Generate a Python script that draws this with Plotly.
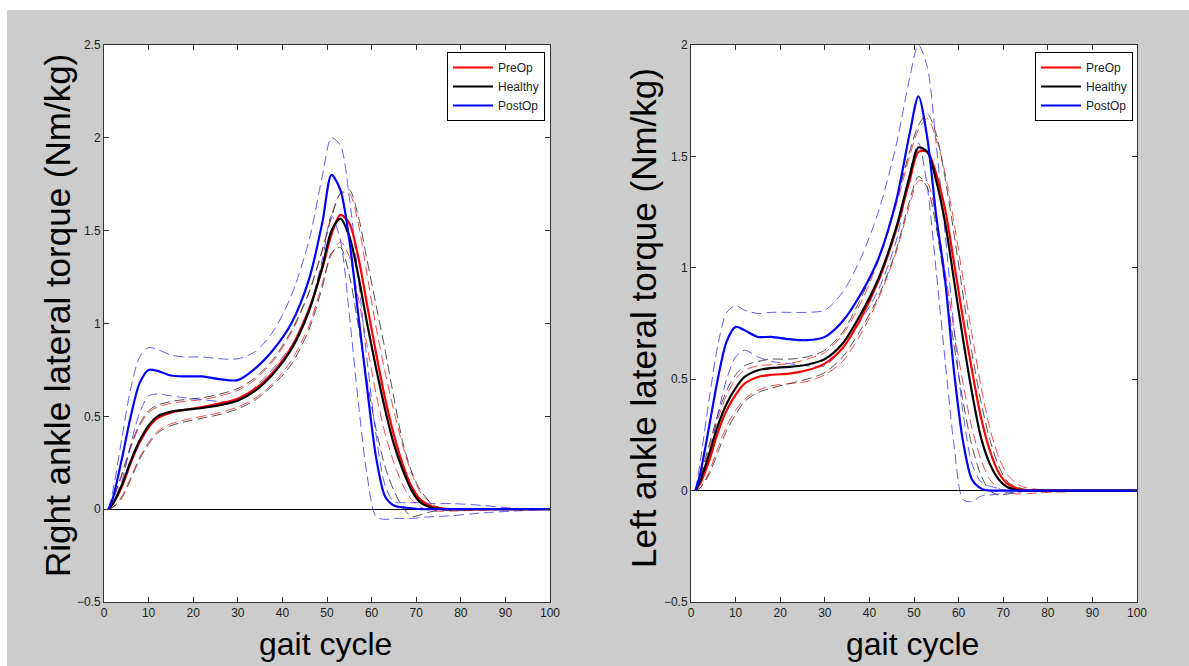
import plotly.graph_objects as go

# ---------------- data ----------------
GAIT = [1, 2, 4, 6, 8, 10, 12, 15, 18, 22, 26, 30, 34, 38, 42, 46, 49, 51, 53, 55,
        57, 59, 61, 63, 65, 67, 69, 71, 74, 78, 85, 92, 100]

X_TICKS = [0, 10, 20, 30, 40, 50, 60, 70, 80, 90, 100]
Y_TICKS_RIGHT = [-0.5, 0, 0.5, 1, 1.5, 2, 2.5]
Y_TICKS_LEFT = [-0.5, 0, 0.5, 1, 1.5, 2]
GROUPS = ["PreOp", "Healthy", "PostOp"]

# Right ankle (left panel)
R_PRE_MEAN = [0, 0.03, 0.12, 0.25, 0.36, 0.44, 0.49, 0.52, 0.535, 0.55, 0.57, 0.595, 0.65, 0.74, 0.87, 1.08, 1.30, 1.48, 1.585, 1.54,
              1.36, 1.10, 0.84, 0.60, 0.40, 0.24, 0.12, 0.05, 0.01, 0, 0, 0, 0]
R_PRE_UP = [0, 0.05, 0.18, 0.33, 0.45, 0.52, 0.55, 0.57, 0.58, 0.59, 0.61, 0.64, 0.70, 0.80, 0.95, 1.17, 1.40, 1.58, 1.70, 1.70,
            1.54, 1.26, 0.98, 0.74, 0.53, 0.34, 0.19, 0.09, 0.02, 0, 0, 0, 0]
R_PRE_LO = [0, 0.01, 0.07, 0.17, 0.28, 0.36, 0.42, 0.46, 0.48, 0.50, 0.52, 0.55, 0.60, 0.68, 0.80, 0.99, 1.22, 1.37, 1.44, 1.36,
            1.14, 0.88, 0.62, 0.41, 0.25, 0.13, 0.05, 0.01, -0.01, -0.01, -0.005, 0, 0]
R_HEA_MEAN = [0, 0.03, 0.13, 0.26, 0.37, 0.45, 0.50, 0.525, 0.535, 0.545, 0.56, 0.585, 0.64, 0.73, 0.86, 1.07, 1.31, 1.50, 1.565, 1.47,
              1.26, 1.00, 0.76, 0.54, 0.35, 0.21, 0.10, 0.035, 0.005, 0, 0, 0, 0]
R_HEA_UP = [0, 0.05, 0.19, 0.34, 0.46, 0.53, 0.56, 0.58, 0.59, 0.60, 0.62, 0.65, 0.71, 0.81, 0.96, 1.17, 1.40, 1.57, 1.70, 1.72,
            1.58, 1.34, 1.10, 0.86, 0.60, 0.36, 0.20, 0.10, 0.02, 0, 0, 0, 0]
R_HEA_LO = [0, 0.01, 0.06, 0.16, 0.27, 0.35, 0.41, 0.45, 0.47, 0.49, 0.51, 0.54, 0.59, 0.67, 0.78, 0.97, 1.20, 1.38, 1.41, 1.26,
            0.99, 0.69, 0.43, 0.23, 0.10, 0.01, -0.04, -0.03, -0.01, -0.005, 0, 0, 0]
R_POST_MEAN = [0, 0.06, 0.27, 0.50, 0.68, 0.75, 0.745, 0.72, 0.715, 0.715, 0.70, 0.695, 0.76, 0.86, 1.00, 1.24, 1.55, 1.80, 1.72, 1.45,
               1.05, 0.65, 0.28, 0.07, 0.02, 0.01, 0.005, 0, 0, 0, 0, 0, 0]
R_POST_UP = [0, 0.10, 0.38, 0.65, 0.82, 0.87, 0.86, 0.83, 0.82, 0.82, 0.81, 0.81, 0.85, 0.96, 1.15, 1.45, 1.80, 2.00, 1.96, 1.68,
             1.25, 0.80, 0.40, 0.13, 0.04, 0.035, 0.035, 0.035, 0.03, 0.03, 0.02, 0.005, 0]
R_POST_LO = [0, 0.03, 0.15, 0.35, 0.52, 0.61, 0.62, 0.61, 0.60, 0.59, 0.58, 0.58, 0.66, 0.76, 0.88, 1.08, 1.35, 1.58, 1.45, 1.05,
             0.58, 0.18, -0.04, -0.055, -0.05, -0.05, -0.05, -0.045, -0.04, -0.035, -0.02, -0.01, 0]

# Left ankle (right panel)
L_PRE_MEAN = [0, 0.03, 0.13, 0.26, 0.36, 0.43, 0.48, 0.51, 0.52, 0.525, 0.54, 0.57, 0.64, 0.77, 0.94, 1.17, 1.39, 1.52, 1.52, 1.42,
              1.26, 1.02, 0.77, 0.54, 0.33, 0.18, 0.08, 0.03, 0.005, 0, 0, 0, 0]
L_PRE_UP = [0, 0.05, 0.18, 0.32, 0.43, 0.50, 0.54, 0.56, 0.565, 0.57, 0.59, 0.62, 0.70, 0.84, 1.03, 1.28, 1.50, 1.62, 1.67, 1.58,
            1.42, 1.20, 0.95, 0.70, 0.47, 0.28, 0.15, 0.07, 0.02, 0.005, 0, 0, 0]
L_PRE_LO = [0, 0.01, 0.08, 0.19, 0.29, 0.36, 0.41, 0.45, 0.47, 0.48, 0.49, 0.52, 0.58, 0.70, 0.86, 1.07, 1.28, 1.39, 1.38, 1.22,
            0.98, 0.72, 0.48, 0.28, 0.14, 0.05, 0.01, -0.01, -0.015, -0.01, -0.005, 0, 0]
L_HEA_MEAN = [0, 0.04, 0.16, 0.29, 0.39, 0.46, 0.51, 0.54, 0.55, 0.555, 0.565, 0.59, 0.66, 0.79, 0.95, 1.18, 1.41, 1.54, 1.52, 1.39,
              1.20, 0.94, 0.68, 0.44, 0.24, 0.12, 0.05, 0.015, 0, 0, 0, 0, 0]
L_HEA_UP = [0, 0.06, 0.20, 0.34, 0.45, 0.52, 0.56, 0.58, 0.59, 0.59, 0.60, 0.63, 0.71, 0.86, 1.04, 1.30, 1.52, 1.64, 1.69, 1.60,
            1.40, 1.15, 0.88, 0.62, 0.40, 0.23, 0.11, 0.04, 0.01, 0, 0, 0, 0]
L_HEA_LO = [0, 0.01, 0.07, 0.17, 0.27, 0.34, 0.40, 0.44, 0.46, 0.48, 0.50, 0.53, 0.60, 0.72, 0.87, 1.08, 1.30, 1.41, 1.36, 1.18,
            0.92, 0.65, 0.40, 0.20, 0.07, 0.0, -0.02, -0.015, -0.005, 0, 0, 0, 0]
L_POST_MEAN = [0, 0.07, 0.28, 0.50, 0.67, 0.735, 0.72, 0.69, 0.69, 0.68, 0.675, 0.69, 0.76, 0.88, 1.04, 1.30, 1.60, 1.77, 1.58, 1.23,
               0.94, 0.53, 0.22, 0.05, 0.01, 0, 0, 0, 0, 0, 0, 0, 0]
L_POST_UP = [0, 0.12, 0.40, 0.65, 0.80, 0.83, 0.81, 0.795, 0.80, 0.80, 0.80, 0.81, 0.89, 1.04, 1.25, 1.55, 1.85, 2.00, 1.90, 1.55,
             1.15, 0.72, 0.35, 0.12, 0.04, 0.02, 0.01, 0, 0, 0, 0, 0, 0]
L_POST_LO = [0, 0.03, 0.15, 0.34, 0.50, 0.60, 0.63, 0.60, 0.58, 0.57, 0.56, 0.56, 0.64, 0.76, 0.90, 1.12, 1.42, 1.56, 1.36, 0.98,
             0.58, 0.20, -0.04, -0.05, -0.025, -0.02, -0.015, -0.01, -0.005, 0, 0, 0, 0]

# ---------------- styling ----------------
W, H = 1189, 666
FONT = "Liberation Sans, Arial, sans-serif"
MEAN_COL = {"PreOp": "#ff0000", "Healthy": "#000000", "PostOp": "#0000ff"}
SD_COL = {"PreOp": "rgba(255,30,30,0.8)", "Healthy": "rgba(50,50,50,0.85)", "PostOp": "rgba(40,40,255,0.75)"}

panels = [
    dict(xa="x", ya="y", legend="legend",
         data={"PreOp": (R_PRE_MEAN, R_PRE_UP, R_PRE_LO),
               "Healthy": (R_HEA_MEAN, R_HEA_UP, R_HEA_LO),
               "PostOp": (R_POST_MEAN, R_POST_UP, R_POST_LO)}),
    dict(xa="x2", ya="y2", legend="legend2",
         data={"PreOp": (L_PRE_MEAN, L_PRE_UP, L_PRE_LO),
               "Healthy": (L_HEA_MEAN, L_HEA_UP, L_HEA_LO),
               "PostOp": (L_POST_MEAN, L_POST_UP, L_POST_LO)}),
]

fig = go.Figure()
for p in panels:
    # dashed +/- SD bands first
    for g in GROUPS:
        _, up, lo = p["data"][g]
        for band in (up, lo):
            fig.add_trace(go.Scatter(
                x=GAIT, y=band, mode="lines", xaxis=p["xa"], yaxis=p["ya"],
                line=dict(color=SD_COL[g], width=1, dash="10px,5px", shape="spline", smoothing=0.8),
                showlegend=False, hoverinfo="skip"))
    for g in GROUPS:
        mean = p["data"][g][0]
        fig.add_trace(go.Scatter(
            x=GAIT, y=mean, mode="lines", name=g, xaxis=p["xa"], yaxis=p["ya"],
            legend=p["legend"],
            line=dict(color=MEAN_COL[g], width=2.2, shape="spline", smoothing=0.8)))

def px_x(v):
    return v / W

def px_y(v):
    return (H - v) / H

ydom = [px_y(602), px_y(45)]
axis_common = dict(showline=True, linecolor="#333333", linewidth=1, mirror="ticks",
                   ticks="inside", ticklen=5, tickcolor="#333333", showgrid=False,
                   automargin=False,
                   tickfont=dict(family=FONT, size=12, color="#222222"))

legend_common = dict(xanchor="right", yanchor="top", bgcolor="white", bordercolor="black",
                     borderwidth=1, font=dict(family=FONT, size=12, color="#222222"),
                     itemwidth=40, tracegroupgap=0)

fig.update_layout(
    template="none",
    width=W, height=H, autosize=False,
    margin=dict(l=0, r=0, t=0, b=0, pad=0, autoexpand=False),
    paper_bgcolor="#cccccc", plot_bgcolor="white",
    font=dict(family=FONT, color="#111111"),
    xaxis=dict(domain=[px_x(104), px_x(550)], range=[0, 100], tickvals=X_TICKS,
               zeroline=False, anchor="y", **axis_common),
    yaxis=dict(domain=ydom, range=[-0.5, 2.5], tickvals=Y_TICKS_RIGHT,
               zeroline=True, zerolinecolor="#000000", zerolinewidth=1, anchor="x", **axis_common),
    xaxis2=dict(domain=[px_x(691), px_x(1137)], range=[0, 100], tickvals=X_TICKS,
                zeroline=False, anchor="y2", **axis_common),
    yaxis2=dict(domain=ydom, range=[-0.5, 2], tickvals=Y_TICKS_LEFT,
                zeroline=True, zerolinecolor="#000000", zerolinewidth=1, anchor="x2", **axis_common),
    legend=dict(x=px_x(545), y=px_y(52), **legend_common),
    legend2=dict(x=px_x(1133), y=px_y(52), **legend_common),
    shapes=[
        dict(type="rect", xref="paper", yref="paper", x0=0, x1=1, y0=px_y(10), y1=1,
             fillcolor="white", line=dict(width=0), layer="below"),
        dict(type="rect", xref="paper", yref="paper", x0=0, x1=px_x(7), y0=0, y1=1,
             fillcolor="white", line=dict(width=0), layer="below"),
    ],
    annotations=[
        dict(text="Right ankle lateral torque (Nm/kg)", textangle=-90, xref="paper", yref="paper",
             x=px_x(57), y=px_y(316), xanchor="center", yanchor="middle", showarrow=False,
             font=dict(family=FONT, size=35, color="#000000")),
        dict(text="Left ankle lateral torque (Nm/kg)", textangle=-90, xref="paper", yref="paper",
             x=px_x(643), y=px_y(318), xanchor="center", yanchor="middle", showarrow=False,
             font=dict(family=FONT, size=35, color="#000000")),
        dict(text="gait cycle", xref="paper", yref="paper",
             x=px_x(325), y=px_y(644), xanchor="center", yanchor="middle", showarrow=False,
             font=dict(family=FONT, size=32, color="#000000")),
        dict(text="gait cycle", xref="paper", yref="paper",
             x=px_x(912), y=px_y(644), xanchor="center", yanchor="middle", showarrow=False,
             font=dict(family=FONT, size=32, color="#000000")),
    ],
)

fig.write_html("out.html", config={"displayModeBar": False},
               post_script="document.body.style.margin='0px';")
